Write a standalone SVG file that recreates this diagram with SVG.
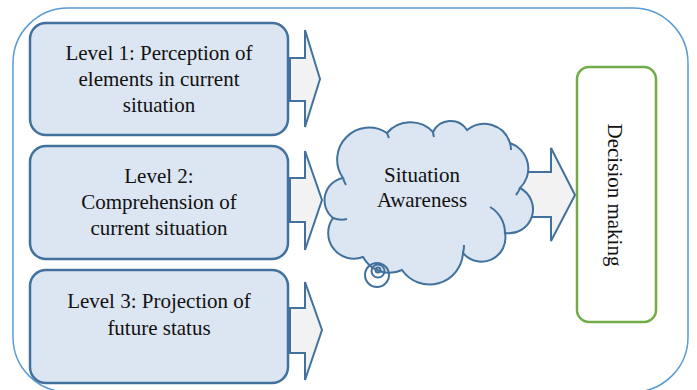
<svg xmlns="http://www.w3.org/2000/svg" width="697" height="390" viewBox="0 0 697 390">
<style>
.frame{fill:none;stroke:#5b9bd5;stroke-width:1.5}
.lvl{fill:#dce6f2;stroke:#41719c;stroke-width:2.5}
.arr{fill:#f2f2f2;stroke:#41719c;stroke-width:2;stroke-linejoin:miter}
.cloud{fill:#dce6f2;stroke:#41719c;stroke-width:2}
.stub{fill:none;stroke:#41719c;stroke-width:2}
.dec{fill:#ffffff;stroke:#70ad47;stroke-width:2.5}
.t{font-size:21px;fill:#111;text-anchor:middle}
</style>
<rect class="frame" x="13" y="8" width="675" height="384" rx="55"/>
<g id="connectors">
<polygon class="arr" points="290,58 305,58 305,30 320,79 305,127 305,101 290,101"/>
<polygon class="arr" points="290,178 305,178 305,151 322,200 305,250 305,222 290,222"/>
<polygon class="arr" points="290,308 305,308 305,282 322,330 305,380 305,353 290,353"/>
<polygon class="arr" points="505,172 551,172 551,148 575,195 551,241 551,217 505,217"/>
</g>
<g font-family="'Liberation Serif', 'Times New Roman', serif">
<g id="level1">
<rect class="lvl" x="30" y="23" width="258" height="112" rx="16"/>
<text class="t" x="159" y="60">Level 1: Perception of</text>
<text class="t" x="159" y="86">elements in current</text>
<text class="t" x="159" y="112">situation</text>
</g>
<g id="level2">
<rect class="lvl" x="30" y="146" width="258" height="113" rx="16"/>
<text class="t" x="159" y="183">Level 2:</text>
<text class="t" x="159" y="209">Comprehension of</text>
<text class="t" x="159" y="235">current situation</text>
</g>
<g id="level3">
<rect class="lvl" x="30" y="270" width="258" height="113" rx="16"/>
<text class="t" x="159" y="308">Level 3: Projection of</text>
<text class="t" x="159" y="335">future status</text>
</g>
<g id="situation-awareness">
<path class="cloud" d="M343,178 A32,32 0 0 1 387,133 A31,31 0 0 1 433,132 A19.5,19.5 0 0 1 467,130 A27,27 0 0 1 510,143 A27,27 0 0 1 520,188 A24,24 0 0 1 505,233 A24,24 0 0 1 463,253 A33.5,33.5 0 0 1 402,270 A30,30 0 0 1 363,257 A25.7,25.7 0 0 1 333,218 A22.7,22.7 0 0 1 343,178 Z"/>
<path class="stub" d="M333,218 A22,22 0 0 0 347,219"/>
<path class="stub" d="M343,178 A30,30 0 0 0 346,185"/>
<path class="stub" d="M387,133 A30,30 0 0 0 389,138"/>
<path class="stub" d="M433,132 A20,20 0 0 0 434,137"/>
<path class="stub" d="M510,143 A25,25 0 0 1 511,150"/>
<path class="stub" d="M520,188 A25,25 0 0 1 516,195"/>
<path class="stub" d="M490,207 A30,30 0 0 1 505,233"/>
<path class="stub" d="M463,253 A25,25 0 0 0 464,245"/>
<circle class="stub" cx="377" cy="275" r="12"/>
<circle class="stub" cx="378" cy="271" r="6.5"/>
<circle class="stub" cx="378" cy="270" r="2.5"/>
<text class="t" x="422" y="182">Situation</text>
<text class="t" x="422" y="207">Awareness</text>
</g>
<g id="decision">
<rect class="dec" x="577" y="67" width="79" height="255" rx="12"/>
<text class="t" transform="translate(608,195) rotate(90)" x="0" y="0">Decision making</text>
</g>
</g>
</svg>
